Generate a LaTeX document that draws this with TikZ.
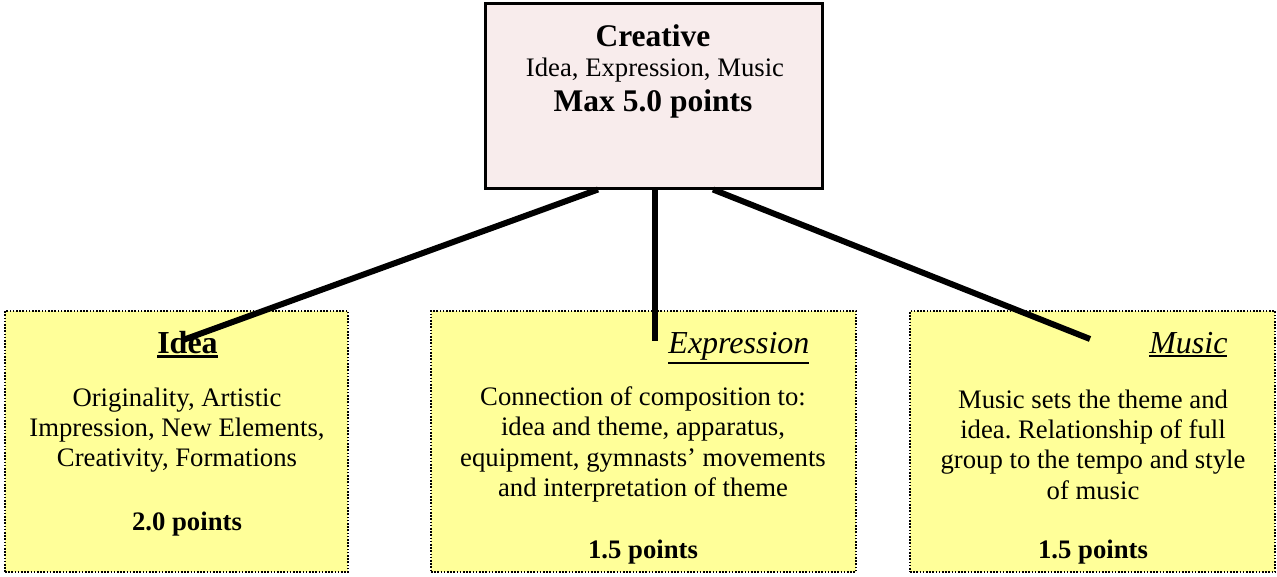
\documentclass[tikz,border=0pt]{standalone}
\usepackage{fontspec}
\setmainfont{Liberation Serif}
\frenchspacing
\definecolor{boxpink}{HTML}{F8ECEC}
\definecolor{boxyellow}{HTML}{FFFF99}
\newcommand\heading[2][2pt]{\vtop{\hbox{#2}\kern2pt\hrule height #1}}

\tikzset{
  topbox/.style={draw, line width=3pt, fill=boxpink, inner sep=0pt},
  partbox/.style={draw, line width=2pt, dash pattern=on 1.6pt off 1.6pt, fill=boxyellow, inner sep=0pt, minimum height=261pt},
  link/.style={line width=6pt},
  bodytext/.style={align=center, font=\fontsize{26.7}{30.3}\selectfont},
  pointstext/.style={font=\fontsize{26.7}{30}\selectfont\bfseries},
}

\begin{document}
\begin{tikzpicture}[x=1pt, y=-1pt, every node/.style={font=\fontsize{26.7}{30}\selectfont}]
  \useasboundingbox (0,0) rectangle (1277,576);
  % Main criterion box
  \node[topbox, minimum width=337pt, minimum height=185pt] (creative) at (653.5,95.5) {};
  \node[font=\fontsize{31.5}{32}\selectfont\bfseries] (creativetitle) at (653,36) {Creative};
  \node (creativesub) at (655,70) {Idea, Expression, Music};
  \node[font=\fontsize{31.5}{32}\selectfont\bfseries] (creativemax) at (653,104) {Max 5.0 points};
  % Sub criteria boxes
  \node[partbox, minimum width=343pt] (idea) at (176.5,441.5) {};
  \node[partbox, minimum width=425pt] (expression) at (643.5,441.5) {};
  \node[partbox, minimum width=365pt] (music) at (1092.5,441.5) {};
  % Idea
  \node[font=\fontsize{32}{32}\selectfont\bfseries, anchor=base] (ideatitle) at (187.5,353) {\heading[3pt]{Idea}};
  \node[bodytext] (ideatext) at (177,430) {Originality, Artistic\\Impression, New Elements,\\Creativity, Formations};
  \node[pointstext] (ideapts) at (187,524) {2.0 points};
  % Expression
  \node[anchor=base east, font=\fontsize{32}{32}\selectfont\itshape] (exprtitle) at (813,353) {\heading{Expression}};
  \node[bodytext] (exprtext) at (643,444.5) {Connection of composition to:\\idea and theme, apparatus,\\equipment, gymnasts’ movements\\and interpretation of theme};
  \node[pointstext] (exprpts) at (643,552) {1.5 points};
  % Music
  \node[anchor=base east, font=\fontsize{32}{32}\selectfont\itshape] (musictitle) at (1231,353) {\heading{Music}};
  \node[bodytext] (musictext) at (1093,444.5) {Music sets the theme and\\idea. Relationship of full\\group to the tempo and style\\of music};
  \node[pointstext] (musicpts) at (1093,552) {1.5 points};
  % Connectors
  \coordinate (ideaend) at (183,340);
  \coordinate (exprend) at (655,341);
  \coordinate (musicend) at (1090,339);
  \draw[link] ([xshift=-55.5pt]creative.south) -- (ideaend);
  \draw[link] ([xshift=1.5pt]creative.south) -- (exprend);
  \draw[link] ([xshift=59.5pt]creative.south) -- (musicend);
\end{tikzpicture}
\end{document}
